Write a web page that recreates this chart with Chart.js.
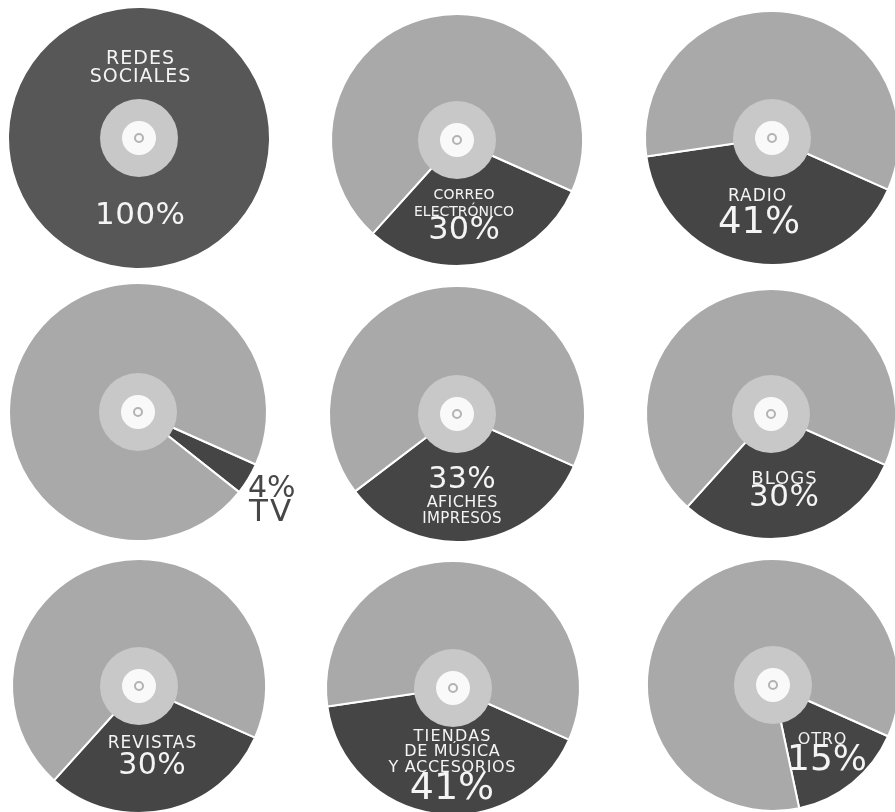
<!DOCTYPE html>
<html>
<head>
<meta charset="utf-8">
<script src="https://cdn.jsdelivr.net/npm/chart.js@4"></script>
<style>
  html, body { margin:0; padding:0; background:#ffffff; }
  body { width:895px; height:812px; position:relative; overflow:hidden; }
  canvas { position:absolute; }
</style>
</head>
<body>
<script>
// ---- data ----
const categories = ["REDES SOCIALES", "CORREO ELECTRÓNICO", "RADIO", "TV", "AFICHES IMPRESOS",
                    "BLOGS", "REVISTAS", "TIENDAS DE MÚSICA Y ACCESORIOS", "OTRO"];
const categoryLines = [["REDES", "SOCIALES"], ["CORREO", "ELECTRÓNICO"], ["RADIO"], ["TV"],
                       ["AFICHES", "IMPRESOS"], ["BLOGS"], ["REVISTAS"],
                       ["TIENDAS", "DE MÚSICA", "Y ACCESORIOS"], ["OTRO"]];
const values = [100, 30, 41, 4, 33, 30, 30, 41, 15];
const valueLabels = values.map(v => v + "%");

// ---- layout (positions / styles only) ----
const centers = [[139,138],[457,140],[772,138],[138,412],[457,414],[771,414],[139,686],[453,688],[773,685]];
const radii = [130,126,127,129,128,125,127,127,126];
// label layout: [kind, lineIndex, dx, dy, fontSize, letterSpacing, align]
const labelLayout = [
  [["c",0,1,-79,19,1],["c",1,1,-61,19,1],["v",0,1,78,31,0.5]],
  [["c",0,7,55,14,0.2],["c",1,7,72,14,0],["v",0,7,91,32,0.3]],
  [["c",0,-15,59,17,1],["v",0,-13,85,37,0]],
  [["v",0,110,77,30,0,"left"],["c",0,111,101,31,2,"left"]],
  [["v",0,5,66,30,0.5],["c",0,5,89,16,0.4],["c",1,5,105,15,0.3]],
  [["c",0,13,65,18,1],["v",0,13,84,31,0.5]],
  [["c",0,13,58,17,1],["v",0,13,80,30,0.5]],
  [["c",0,-1,49,16,1.2],["c",1,-1,64,16,0.7],["c",2,-1,80,16,0.7],["v",0,-1,101,38,0]],
  [["c",0,49,55,16,0.8],["v",0,54,76,36,0]]
];
const DARK = "#454545", DARK1 = "#575757", LIGHT = "#a9a9a9";
const FONT = '"DejaVu Sans", sans-serif';

const hubPlugin = {
  id: 'hub',
  afterDatasetsDraw(chart, args, opts) {
    const meta = chart.getDatasetMeta(0);
    const arc = meta.data[0];
    const cx = arc.x, cy = arc.y;
    const ctx = chart.ctx;
    ctx.save();
    ctx.beginPath(); ctx.arc(cx, cy, 39, 0, Math.PI*2); ctx.fillStyle = "#c8c8c8"; ctx.fill();
    ctx.beginPath(); ctx.arc(cx, cy, 17, 0, Math.PI*2); ctx.fillStyle = "#f9f9f9"; ctx.fill();
    ctx.beginPath(); ctx.arc(cx, cy, 4, 0, Math.PI*2); ctx.lineWidth = 2; ctx.strokeStyle = "#b3b3b3"; ctx.stroke();
    // labels
    const idx = opts.index;
    ctx.fillStyle = opts.textColor;
    ctx.textBaseline = "middle";
    for (const [kind, li, dx, dy, size, ls, align] of labelLayout[idx]) {
      const txt = kind === "c" ? categoryLines[idx][li] : valueLabels[idx];
      ctx.font = `${size}px ${FONT}`;
      ctx.letterSpacing = ls + "px";
      ctx.textAlign = align || "center";
      const shift = (align ? 0 : ls / 2);
      ctx.fillText(txt, cx + dx + shift, cy + dy);
    }
    ctx.restore();
  }
};

values.forEach((v, i) => {
  const cv = document.createElement("canvas");
  const W = 340, H = 280;
  cv.width = W; cv.height = H;
  cv.style.left = (centers[i][0] - W/2) + "px";
  cv.style.top = (centers[i][1] - H/2) + "px";
  document.body.appendChild(cv);
  new Chart(cv, {
    type: "doughnut",
    data: {
      labels: [categories[i], "resto"],
      datasets: [{
        data: v >= 100 ? [v] : [v, 100 - v],
        backgroundColor: [i === 0 ? DARK1 : DARK, LIGHT],
        borderColor: "#ffffff",
        borderWidth: v >= 100 ? 0 : 2
      }]
    },
    options: {
      responsive: false,
      animation: false,
      cutout: 0,
      radius: radii[i],
      rotation: 114,
      layout: { padding: 0 },
      plugins: {
        legend: { display: false },
        tooltip: { enabled: false },
        hub: { index: i, textColor: i === 3 ? "#474747" : "#f4f4f4" }
      }
    },
    plugins: [hubPlugin]
  });
});
</script>
</body>
</html>
